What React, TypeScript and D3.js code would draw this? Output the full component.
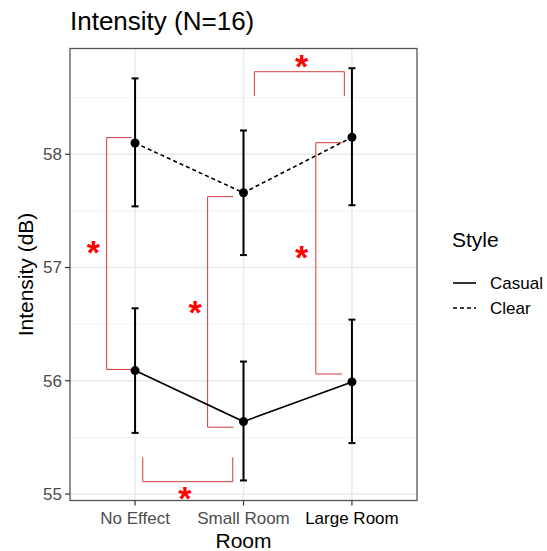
import React from 'react';
import * as d3 from 'd3';

const rooms = ['No Effect', 'Small Room', 'Large Room'];
const styles = ['Casual', 'Clear'];
const casualMean = [56.09, 55.64, 55.99];
const casualLow = [55.54, 55.12, 55.45];
const casualHigh = [56.64, 56.17, 56.54];
const clearMean = [58.1, 57.66, 58.15];
const clearLow = [57.54, 57.11, 57.55];
const clearHigh = [58.67, 58.21, 58.76];
const yTicks = [55, 56, 57, 58];
const yMinor = [55.5, 56.5, 57.5, 58.5];

// significance brackets: vertical ones (x = line, xEnd = tick end, y1/y2) and horizontal ones
const vBrackets = [
  { x: 0.738, xEnd: 0.969, y1: 58.147, y2: 56.1, sx: 0.615, sy: 57.18 },
  { x: 1.669, xEnd: 1.907, y1: 57.626, y2: 55.59, sx: 1.553, sy: 56.655 },
  { x: 2.667, xEnd: 2.91, y1: 58.102, y2: 56.06, sx: 2.537, sy: 57.14 },
];
const hBrackets = [
  { x1: 2.1, x2: 2.93, y: 58.729, yEnd: 58.515, sx: 2.536, sy: 58.826 },
  { x1: 1.071, x2: 1.901, y: 55.109, yEnd: 55.324, sx: 1.46, sy: 55.006 },
];

const W = 547, H = 551;
const left = 70, right = 417, top = 48.5, bottom = 500.5;
const font = '"Liberation Sans", Arial, sans-serif';

export default function App() {
  const x = d3.scalePoint<string>().domain(rooms).range([left, right]).padding(0.6);
  const xc = d3.scaleLinear().domain([0.4, 3.6]).range([left, right]);
  const y = d3.scaleLinear().domain([54.943, 58.934]).range([bottom, top]);
  const line = d3.line<number>().x((_, i) => x(rooms[i])!).y(d => y(d));

  const series = [
    { name: styles[0], mean: casualMean, lo: casualLow, hi: casualHigh, dash: undefined },
    { name: styles[1], mean: clearMean, lo: clearLow, hi: clearHigh, dash: '4,3' },
  ];
  const red = '#d23c3c';
  const star = (cx: number, cy: number, k: string) => (
    <text key={k} x={xc(cx)} y={y(cy) + 17} textAnchor="middle" fontSize={34} fontWeight="bold"
      fill="#ff0000" fontFamily={font}>*</text>
  );

  return (
    <svg width={W} height={H} style={{ position: 'absolute', left: 0, top: 0, background: '#fff' }}>
      <rect width={W} height={H} fill="#fff" />
      {/* grid */}
      {yMinor.map(v => (
        <line key={'m' + v} x1={left} x2={right} y1={y(v)} y2={y(v)} stroke="#f3f3f3" strokeWidth={1} />
      ))}
      {yTicks.map(v => (
        <line key={'g' + v} x1={left} x2={right} y1={y(v)} y2={y(v)} stroke="#ebebeb" strokeWidth={1.5} />
      ))}
      {rooms.map(r => (
        <line key={'v' + r} x1={x(r)} x2={x(r)} y1={top} y2={bottom} stroke="#ebebeb" strokeWidth={1.5} />
      ))}
      {/* brackets */}
      {vBrackets.map((b, i) => (
        <g key={'vb' + i}>
          <path d={`M${xc(b.xEnd)},${y(b.y1)}H${xc(b.x)}V${y(b.y2)}H${xc(b.xEnd)}`} fill="none" stroke={red} strokeWidth={1} />
          {star(b.sx, b.sy, 'vs' + i)}
        </g>
      ))}
      {hBrackets.map((b, i) => (
        <g key={'hb' + i}>
          <path d={`M${xc(b.x1)},${y(b.yEnd)}V${y(b.y)}H${xc(b.x2)}V${y(b.yEnd)}`} fill="none" stroke={red} strokeWidth={1} />
          {star(b.sx, b.sy, 'hs' + i)}
        </g>
      ))}
      {/* series */}
      {series.map(s => (
        <g key={s.name}>
          <path d={line(s.mean)!} fill="none" stroke="#000" strokeWidth={1.6} strokeDasharray={s.dash} />
          {rooms.map((r, i) => (
            <g key={r}>
              <line x1={x(r)} x2={x(r)} y1={y(s.lo[i])} y2={y(s.hi[i])} stroke="#000" strokeWidth={2} />
              <line x1={x(r)! - 3.5} x2={x(r)! + 3.5} y1={y(s.lo[i])} y2={y(s.lo[i])} stroke="#000" strokeWidth={2} />
              <line x1={x(r)! - 3.5} x2={x(r)! + 3.5} y1={y(s.hi[i])} y2={y(s.hi[i])} stroke="#000" strokeWidth={2} />
              <circle cx={x(r)} cy={y(s.mean[i])} r={4.5} fill="#000" />
            </g>
          ))}
        </g>
      ))}
      {/* panel border */}
      <rect x={left} y={top} width={right - left} height={bottom - top} fill="none" stroke="#555" strokeWidth={1.3} />
      {/* y axis */}
      {yTicks.map(v => (
        <g key={'t' + v}>
          <line x1={left - 5} x2={left} y1={y(v)} y2={y(v)} stroke="#333" strokeWidth={1.2} />
          <text x={left - 8} y={y(v)} dy="0.35em" textAnchor="end" fontSize={17} fill="#4d4d4d" fontFamily={font}>{v}</text>
        </g>
      ))}
      {/* x axis */}
      {rooms.map((r, i) => (
        <g key={'xt' + r}>
          <line x1={x(r)} x2={x(r)} y1={bottom} y2={bottom + 5} stroke="#333" strokeWidth={1.2} />
          <text x={x(r)} y={524} textAnchor="middle" fontSize={17} fill={i === 2 ? '#000' : '#4d4d4d'} fontFamily={font}>{r}</text>
        </g>
      ))}
      <text x={(left + right) / 2} y={548} textAnchor="middle" fontSize={21} fill="#000" fontFamily={font}>Room</text>
      <text transform={`translate(33,${(top + bottom) / 2}) rotate(-90)`} textAnchor="middle" fontSize={21} fill="#000" fontFamily={font}>Intensity (dB)</text>
      <text x={left} y={30} fontSize={26} fill="#000" fontFamily={font}>Intensity (N=16)</text>
      {/* legend */}
      <text x={452} y={247} fontSize={21} fill="#000" fontFamily={font}>Style</text>
      {series.map((s, i) => (
        <g key={'lg' + s.name}>
          <line x1={453} x2={476} y1={283 + i * 25} y2={283 + i * 25} stroke="#000" strokeWidth={1.6} strokeDasharray={s.dash} />
          <text x={490} y={283 + i * 25} dy="0.35em" fontSize={17} fill="#000" fontFamily={font}>{s.name}</text>
        </g>
      ))}
    </svg>
  );
}
